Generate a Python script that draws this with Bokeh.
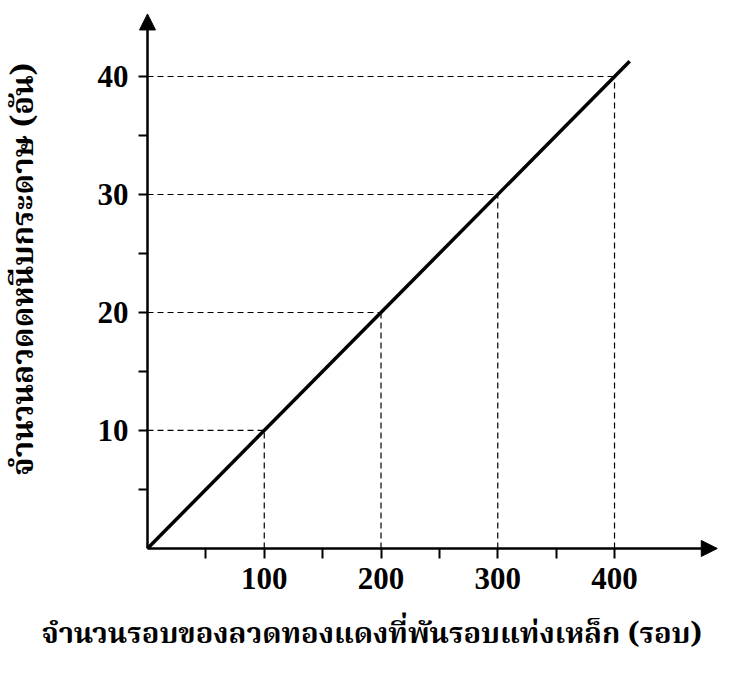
import math
from bokeh.plotting import figure
from bokeh.models import Range1d, FixedTicker, Arrow, NormalHead, ColumnDataSource, Label
from bokeh.embed import file_html
from bokeh.resources import INLINE

# data
turns = [100, 200, 300, 400]
clips = [10, 20, 30, 40]
line_x = [0, 413]
line_y = [0, 41.3]
x_ticks = [50, 100, 150, 200, 250, 300, 350, 400]
y_ticks = [5, 10, 15, 20, 25, 30, 35, 40]
x_tick_labels = {50: "", 100: "100", 150: "", 200: "200", 250: "", 300: "300", 350: "", 400: "400"}
y_tick_labels = {5: "", 10: "10", 15: "", 20: "20", 25: "", 30: "30", 35: "", 40: "40"}
x_label = "จำนวนรอบของลวดทองแดงที่พันรอบแท่งเหล็ก  (รอบ)"
y_label = "จำนวนลวดดหนีบกระดาษ  (อัน)"

THAI = "'Noto Serif Thai', 'Noto Sans Thai', 'Noto Sans', serif"
NUM = "'Liberation Serif', 'DejaVu Serif', serif"

p = figure(width=733, height=661, output_backend="svg", toolbar_location=None,
           x_range=Range1d(-125.9, 501.9), y_range=Range1d(-9.58, 46.44),
           min_border=0)
p.grid.visible = False
p.outline_line_color = None
p.background_fill_color = "white"
p.border_fill_color = "white"

for ax in (p.xaxis[0], p.yaxis[0]):
    ax.fixed_location = 0
    ax.axis_line_color = None
    ax.major_tick_line_color = "black"
    ax.major_tick_line_width = 2
    ax.major_tick_in = 0
    ax.minor_tick_line_color = None
    ax.major_label_text_font = NUM
    ax.major_label_text_font_style = "bold"
    ax.major_label_text_font_size = "31px"
    ax.major_label_text_color = "black"

p.xaxis.ticker = FixedTicker(ticks=x_ticks)
p.xaxis.major_label_overrides = x_tick_labels
p.xaxis.major_tick_out = 10
p.xaxis.major_label_standoff = 10

p.yaxis.ticker = FixedTicker(ticks=y_ticks)
p.yaxis.major_label_overrides = y_tick_labels
p.yaxis.major_tick_out = 9
p.yaxis.major_label_standoff = 10

src = ColumnDataSource(dict(
    x=turns, y=clips, zx=[0] * len(turns), zy=[0] * len(clips)))
p.segment(x0="zx", y0="y", x1="x", y1="y", source=src,
          line_color="black", line_width=1.2, line_dash="6 4")
p.segment(x0="x", y0="zy", x1="x", y1="y", source=src,
          line_color="black", line_width=1.2, line_dash="6 4")

p.line(line_x, line_y, line_color="black", line_width=3.5)

p.add_layout(Arrow(end=NormalHead(size=16, fill_color="black", line_color="black"),
                   x_start=0, y_start=0, x_end=488, y_end=0,
                   line_color="black", line_width=2.5))
p.add_layout(Arrow(end=NormalHead(size=16, fill_color="black", line_color="black"),
                   x_start=0, y_start=0, x_end=0, y_end=45.3,
                   line_color="black", line_width=2.5))

p.add_layout(Label(x=195.3, y=-7.3, text=x_label, text_align="center", text_baseline="middle",
                   text_font=THAI, text_font_style="bold", text_font_size="29px",
                   text_color="black"))
p.add_layout(Label(x=-104.5, y=24.0, text=y_label, angle=math.pi / 2,
                   text_align="center", text_baseline="middle",
                   text_font=THAI, text_font_style="bold", text_font_size="31px",
                   text_color="black"))

open("out.html", "w").write(file_html(p, INLINE))
